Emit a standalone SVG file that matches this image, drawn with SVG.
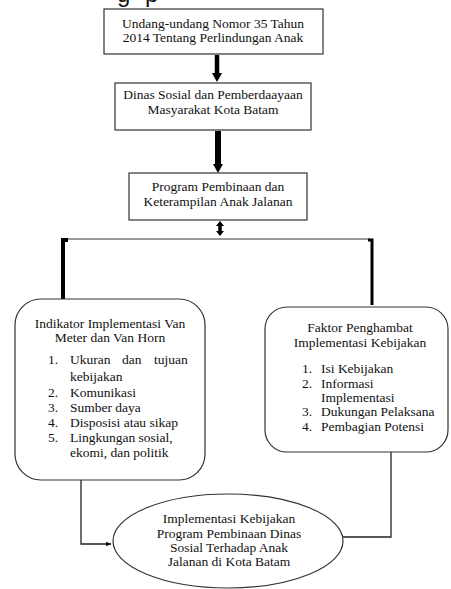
<svg xmlns="http://www.w3.org/2000/svg" width="451" height="589" viewBox="0 0 451 589">
<style>
.box{fill:#fff;stroke:#333;stroke-width:1.2}
.t{font-family:'Liberation Serif','DejaVu Serif','Noto Serif',serif;font-size:13.5px;fill:#111}
.c{text-anchor:middle}
.thick{stroke:#000;stroke-width:4.5;fill:none}
.thin{stroke:#222;stroke-width:1.3;fill:none}
.gray{stroke:#777;stroke-width:1.3;fill:none}
</style>
<defs>
<marker id="ah" viewBox="0 0 10 10" refX="9" refY="5" markerWidth="6" markerHeight="6" orient="auto" markerUnits="userSpaceOnUse">
<path d="M0,1 L10,5 L0,9 Z" fill="#111"/>
</marker>
</defs>
<rect width="451" height="589" fill="#fff"/>
<text font-family="'Liberation Sans', Arial, sans-serif" font-size="24" fill="#111" y="2"><tspan x="117">g</tspan><tspan x="145">p</tspan></text>
<g id="connectors">
<line class="thick" x1="217" y1="55" x2="217" y2="74"/>
<path d="M212,73 L222,73 L217,82 Z" fill="#000"/>
<line class="thick" x1="218" y1="131" x2="218" y2="165" style="stroke-width:6"/>
<path d="M213,164 L223,164 L218,173 Z" fill="#000"/>
<line class="thick" x1="220" y1="225" x2="220" y2="232" style="stroke-width:3.5"/>
<path d="M216,226 L224,226 L220,221 Z" fill="#000"/>
<path d="M216,231 L224,231 L220,236 Z" fill="#000"/>
<line class="gray" x1="66" y1="239" x2="370" y2="239"/>
<path class="thick" d="M68,240 L63,240 L63,299" style="stroke-width:4"/>
<path class="thick" d="M368,240 L372,240 L372,305" style="stroke-width:3"/>
<path class="thin" d="M81,480 L81,544 L111,544" marker-end="url(#ah)"/>
<path class="thin" d="M391,452 L391,537 L338,537" marker-end="url(#ah)"/>
</g>
<g id="node-uu">
<rect class="box" x="104" y="9" width="219" height="45"/>
<text class="t c" x="213" y="28">Undang-undang Nomor 35 Tahun</text>
<text class="t c" x="213" y="42">2014 Tentang Perlindungan Anak</text>
</g>
<g id="node-dinas">
<rect class="box" x="115" y="83" width="196" height="47"/>
<text class="t c" x="213" y="99">Dinas Sosial dan Pemberdaayaan</text>
<text class="t c" x="213" y="114">Masyarakat Kota Batam</text>
</g>
<g id="node-program">
<rect class="box" x="129" y="173" width="178" height="47"/>
<text class="t c" x="218" y="191">Program Pembinaan dan</text>
<text class="t c" x="218" y="206">Keterampilan Anak Jalanan</text>
</g>
<g id="node-indikator">
<rect class="box" x="15" y="299" width="190" height="181" rx="26" ry="26"/>
<text class="t c" x="110" y="328">Indikator Implementasi Van</text>
<text class="t c" x="110" y="342">Meter dan Van Horn</text>
<text class="t" y="364"><tspan x="48">1.</tspan><tspan x="70">Ukuran</tspan><tspan x="122">dan</tspan><tspan x="154">tujuan</tspan></text>
<text class="t" x="70" y="381">kebijakan</text>
<text class="t" y="397"><tspan x="48">2.</tspan><tspan x="70">Komunikasi</tspan></text>
<text class="t" y="412"><tspan x="48">3.</tspan><tspan x="70">Sumber daya</tspan></text>
<text class="t" y="427"><tspan x="48">4.</tspan><tspan x="70">Disposisi atau sikap</tspan></text>
<text class="t" y="442"><tspan x="48">5.</tspan><tspan x="70">Lingkungan sosial,</tspan></text>
<text class="t" x="70" y="457">ekomi, dan politik</text>
</g>
<g id="node-faktor">
<rect class="box" x="265" y="307" width="183" height="145" rx="22" ry="22"/>
<text class="t c" x="360" y="332">Faktor Penghambat</text>
<text class="t c" x="360" y="347">Implementasi Kebijakan</text>
<text class="t" y="373"><tspan x="302">1.</tspan><tspan x="321">Isi Kebijakan</tspan></text>
<text class="t" y="388"><tspan x="302">2.</tspan><tspan x="321">Informasi</tspan></text>
<text class="t" x="321" y="402">Implementasi</text>
<text class="t" y="416"><tspan x="302">3.</tspan><tspan x="321">Dukungan Pelaksana</tspan></text>
<text class="t" y="431"><tspan x="302">4.</tspan><tspan x="321">Pembagian Potensi</tspan></text>
</g>
<g id="node-implementasi">
<ellipse class="box" cx="228" cy="541" rx="115" ry="47"/>
<text class="t c" x="229" y="523">Implementasi Kebijakan</text>
<text class="t c" x="229" y="538">Program Pembinaan Dinas</text>
<text class="t c" x="229" y="552">Sosial Terhadap Anak</text>
<text class="t c" x="229" y="566">Jalanan di Kota Batam</text>
</g>
</svg>
